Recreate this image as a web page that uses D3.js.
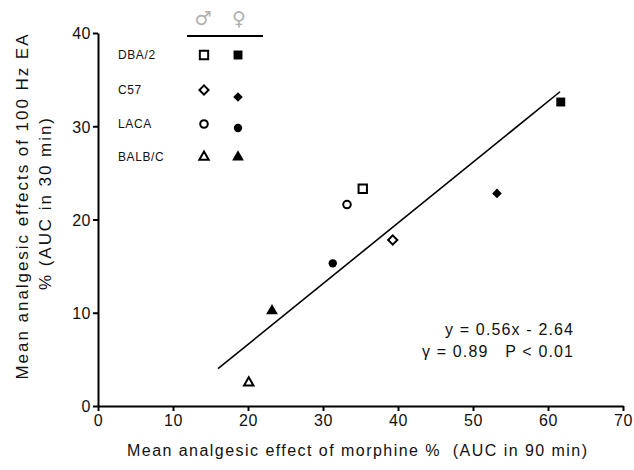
<!DOCTYPE html>
<html>
<head>
<meta charset="utf-8">
<script src="https://cdn.jsdelivr.net/npm/d3@7"></script>
<style>
  body { margin: 0; background: #fff; }
  svg text { font-family: "Liberation Sans", Arial, sans-serif; fill: #111; }
</style>
</head>
<body>
<div id="grafico"></div>
<script>
// strains and sexes
const strains   = ["DBA/2", "C57", "LACA", "BALB/C"];
const shapes    = ["square", "diamond", "circle", "triangle"];
// x = morphine effect, y = 100 Hz EA effect
const maleX     = [35.3, 39.3, 33.2, 20.1];
const maleY     = [23.3, 17.8, 21.6, 2.5];
const femaleX   = [61.7, 53.2, 31.3, 23.2];
const femaleY   = [32.6, 22.8, 15.3, 10.2];
// regression line as drawn
const fitX      = [16.0, 61.6];
const fitY      = [4.0, 33.7];
const xTicks    = [0, 10, 20, 30, 40, 50, 60, 70];
const yTicks    = [0, 10, 20, 30, 40];

const margin = { top: 33, left: 98, bottom: 64, right: 12 };

const svgRoot = d3.select("#grafico")
                  .append("svg")
                  .attr("width", 634)
                  .attr("height", 470);

const svg = svgRoot.append("g")
                   .attr("transform", `translate(${margin.left}, ${margin.top})`);

const xScale = d3.scaleLinear().domain([0, 70]).range([0, 525]);
const yScale = d3.scaleLinear().domain([0, 40]).range([373, 0]);

const xAxis = svg.append("g")
                 .attr("transform", `translate(0, ${yScale(0)})`)
                 .call(d3.axisBottom(xScale).tickValues(xTicks).tickSize(5).tickPadding(4).tickSizeOuter(0));

const yAxis = svg.append("g")
                 .call(d3.axisLeft(yScale).tickValues(yTicks).tickSize(5).tickPadding(2).tickSizeOuter(0));

[xAxis, yAxis].forEach(a => {
    a.select(".domain").attr("stroke", "#000").attr("stroke-width", 2);
    a.selectAll(".tick line").attr("stroke", "#000").attr("stroke-width", 2);
    a.selectAll(".tick text").style("font-size", "16px").style("letter-spacing", "0.5px").attr("fill", "#111");
});
yAxis.selectAll(".tick text").attr("dy", "0.36em");

// fit line
svg.append("path")
   .datum(fitX.map((x, i) => [x, fitY[i]]))
   .attr("d", d3.line().x(d => xScale(d[0])).y(d => yScale(d[1])))
   .attr("stroke", "#000")
   .attr("stroke-width", 1.6)
   .attr("fill", "none");

const symbolType = {
    square: d3.symbolSquare,
    diamond: d3.symbolSquare,
    circle: d3.symbolCircle,
    triangle: d3.symbolTriangle
};
const symbolSize = {
    open:   { square: 70, diamond: 42, circle: 45, triangle: 38 },
    filled: { square: 80, diamond: 46, circle: 55, triangle: 60 }
};

function drawMark(g, shape, filled) {
    g.append("path")
     .attr("d", d3.symbol().type(symbolType[shape]).size(symbolSize[filled ? "filled" : "open"][shape])())
     .attr("transform", shape === "diamond" ? "rotate(45)" : null)
     .attr("fill", filled ? "#000" : "#fff")
     .attr("stroke", "#000")
     .attr("stroke-width", filled ? 0 : 2);
}

const points = [];
strains.forEach((s, i) => {
    points.push({ x: maleX[i], y: maleY[i], shape: shapes[i], filled: false });
    points.push({ x: femaleX[i], y: femaleY[i], shape: shapes[i], filled: true });
});

svg.selectAll("g.pt")
   .data(points)
   .join("g")
   .attr("class", "pt")
   .attr("transform", d => `translate(${xScale(d.x)}, ${yScale(d.y)})`)
   .each(function (d) { drawMark(d3.select(this), d.shape, d.filled); });

// legend
const legend = svgRoot.append("g");
const rowY = [55, 90, 124, 157];
legend.append("text").attr("x", 203).attr("y", 25).attr("text-anchor", "middle")
      .style("font-family", "DejaVu Sans").style("font-size", "19px").style("fill", "#b0b0b0").text("♂");
legend.append("text").attr("x", 239).attr("y", 25).attr("text-anchor", "middle")
      .style("font-family", "DejaVu Sans").style("font-size", "19px").style("fill", "#b0b0b0").text("♀");
legend.append("line").attr("x1", 187).attr("x2", 263).attr("y1", 36).attr("y2", 36)
      .attr("stroke", "#000").attr("stroke-width", 2);

strains.forEach((s, i) => {
    legend.append("text").attr("x", 118).attr("y", rowY[i] + 4)
          .style("font-size", "12px").style("letter-spacing", "0.6px").text(s);
    drawMark(legend.append("g").attr("transform", `translate(204, ${rowY[i]})`), shapes[i], false);
    const dy = shapes[i] === "diamond" ? 7 : (shapes[i] === "circle" ? 4 : 0);
    drawMark(legend.append("g").attr("transform", `translate(238, ${rowY[i] + dy})`), shapes[i], true);
});

// equation
svgRoot.append("text").attr("x", 573).attr("y", 335).attr("text-anchor", "end")
       .style("font-size", "16px").attr("textLength", 128).attr("lengthAdjust", "spacing")
       .text("y = 0.56x - 2.64");
svgRoot.append("text").attr("x", 573).attr("y", 357).attr("text-anchor", "end")
       .style("font-size", "16px").attr("xml:space", "preserve")
       .attr("textLength", 151).attr("lengthAdjust", "spacing")
       .text("γ = 0.89   P < 0.01");

// axis titles
svgRoot.append("text").attr("x", 357).attr("y", 456).attr("text-anchor", "middle")
       .style("font-size", "16px").attr("xml:space", "preserve")
       .attr("textLength", 460).attr("lengthAdjust", "spacing")
       .text("Mean analgesic effect of morphine %  (AUC in 90 min)");

svgRoot.append("text").attr("transform", "translate(28, 207) rotate(-90)")
       .attr("text-anchor", "middle").style("font-size", "17px")
       .attr("textLength", 345).attr("lengthAdjust", "spacing")
       .text("Mean analgesic effects of 100 Hz EA");
svgRoot.append("text").attr("transform", "translate(51, 204) rotate(-90)")
       .attr("text-anchor", "middle").style("font-size", "17px")
       .attr("textLength", 172).attr("lengthAdjust", "spacing")
       .text("% (AUC in 30 min)");
</script>
</body>
</html>
